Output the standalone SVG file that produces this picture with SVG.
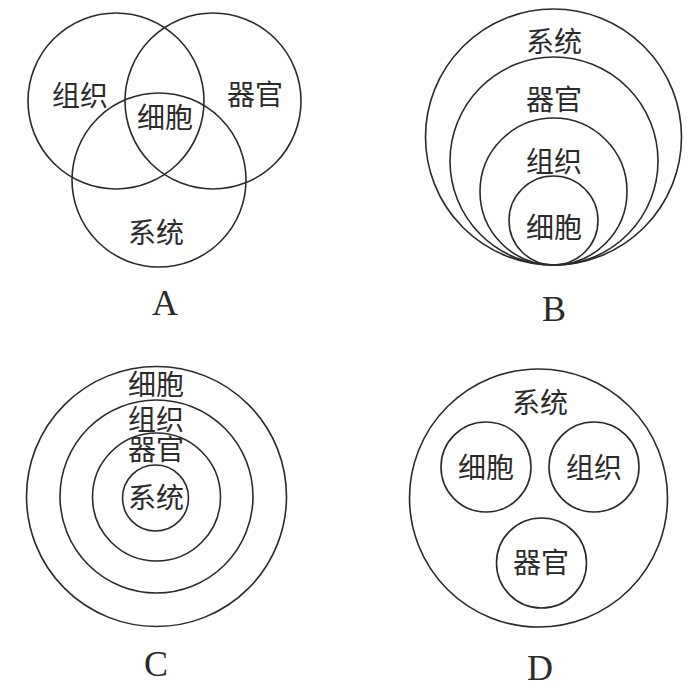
<svg xmlns="http://www.w3.org/2000/svg" width="700" height="690" viewBox="0 0 700 690">
<style>
.c{fill:none;stroke:#2a2a2a;stroke-width:1.6}
.t{font-family:"Noto Sans CJK SC","Noto Sans",sans-serif;font-size:28px;fill:#2a2a2a;text-anchor:middle}
.l{font-family:"Liberation Serif","Times New Roman",serif;font-size:36px;fill:#2a2a2a;text-anchor:middle}
</style>
<rect width="700" height="690" fill="#fff"/>
<g id="panelA">
  <g id="A-zuzhi"><circle class="c" cx="116" cy="101" r="88"/><text class="t" x="80" y="106">组织</text></g>
  <g id="A-qiguan"><circle class="c" cx="213" cy="101" r="88"/><text class="t" x="255" y="105">器官</text></g>
  <g id="A-xitong"><circle class="c" cx="159" cy="180" r="87"/><text class="t" x="156" y="243">系统</text></g>
  <g id="A-xibao"><text class="t" x="165" y="128">细胞</text></g>
  <text class="l" x="165" y="315">A</text>
</g>
<g id="panelB">
  <g id="B-xitong"><circle class="c" cx="553.5" cy="137" r="128"/><text class="t" x="554" y="52">系统</text></g>
  <g id="B-qiguan"><circle class="c" cx="554" cy="161" r="104"/><text class="t" x="554" y="110">器官</text></g>
  <g id="B-zuzhi"><circle class="c" cx="553.5" cy="191.5" r="73.5"/><text class="t" x="554" y="172">组织</text></g>
  <g id="B-xibao"><circle class="c" cx="553.5" cy="220.5" r="44.5"/><text class="t" x="554" y="238">细胞</text></g>
  <text class="l" x="554" y="321">B</text>
</g>
<g id="panelC">
  <g id="C-xibao"><circle class="c" cx="156.5" cy="496.5" r="130"/><text class="t" x="156" y="395">细胞</text></g>
  <g id="C-zuzhi"><circle class="c" cx="156.5" cy="496.5" r="96.5"/><text class="t" x="156" y="430">组织</text></g>
  <g id="C-qiguan"><circle class="c" cx="156.5" cy="497" r="64"/><text class="t" x="156" y="460">器官</text></g>
  <g id="C-xitong"><circle class="c" cx="155.5" cy="498" r="33"/><text class="t" x="156" y="508">系统</text></g>
  <text class="l" x="156" y="676">C</text>
</g>
<g id="panelD">
  <g id="D-xitong"><circle class="c" cx="538.5" cy="498" r="129"/><text class="t" x="540" y="413">系统</text></g>
  <g id="D-xibao"><circle class="c" cx="486" cy="467" r="45"/><text class="t" x="486" y="478">细胞</text></g>
  <g id="D-zuzhi"><circle class="c" cx="594" cy="467" r="45"/><text class="t" x="594" y="478">组织</text></g>
  <g id="D-qiguan"><circle class="c" cx="541.5" cy="563" r="45"/><text class="t" x="541" y="573">器官</text></g>
  <text class="l" x="540" y="680">D</text>
</g>
</svg>
